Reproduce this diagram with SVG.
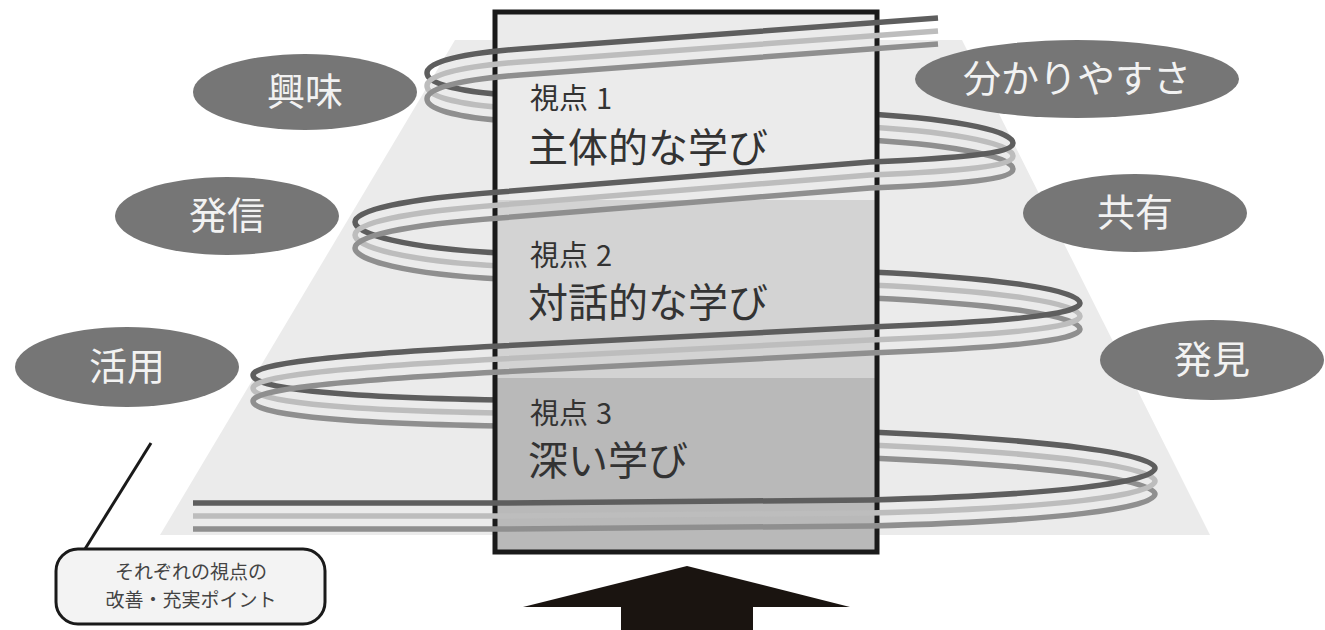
<svg xmlns="http://www.w3.org/2000/svg" xmlns:xlink="http://www.w3.org/1999/xlink" width="1325" height="630" viewBox="0 0 1325 630">
<style>
.bubble{fill:#767676}
.btxt{font-family:"Noto Sans CJK JP","Noto Sans",sans-serif;font-size:38px;fill:#f2f2f2;text-anchor:middle}
.vt{font-family:"Noto Sans CJK JP","Noto Sans",sans-serif;fill:#333333}
.vs{font-size:29px}
.vl{font-size:40px}
.ring{fill:none;stroke-width:5.5;stroke-linecap:butt}
.dk{stroke:#5e5e5e}
.lt{stroke:#bdbdbd}
.md{stroke:#8f8f8f}
.ctxt{font-family:"Noto Sans CJK JP","Noto Sans",sans-serif;font-size:19px;fill:#444444;text-anchor:middle}
</style>
<defs>
<path id="f1" d="M938,18 L520,49 C455,54 427,63 427,73"/>
<path id="f2" d="M1013,143 C1013,153 965,158 870,162 L500,192 C405,199 355,210 355,222"/>
<path id="f3" d="M1080,303 C1080,315 1000,322 870,327 L500,346 C330,355 253,364 253,375"/>
<path id="f4" d="M1155,468 C1155,482 1060,495 870,500 L500,503 L193,503"/>
<path id="b1" d="M427,73 C427,83 455,92 520,96 L870,114 C965,120 1013,132 1013,143"/>
<path id="b2" d="M355,222 C355,234 405,248 500,253 L870,272 C1000,278 1080,290 1080,303"/>
<path id="b3" d="M253,375 C253,388 330,397 500,400 L870,432 C1060,440 1155,455 1155,468"/>
</defs>
<rect x="0" y="0" width="1325" height="630" fill="#ffffff"/>
<polygon points="455,40 962,40 1210,535 160,535" fill="#ebebeb"/>

<g id="spiral-back">
<g class="ring md" transform="translate(0,26)"><use xlink:href="#b1"/><use xlink:href="#b2"/><use xlink:href="#b3"/></g>
<g class="ring lt" transform="translate(0,13)"><use xlink:href="#b1"/><use xlink:href="#b2"/><use xlink:href="#b3"/></g>
<g class="ring dk"><use xlink:href="#b1"/><use xlink:href="#b2"/><use xlink:href="#b3"/></g>
</g>

<g id="viewpoints">
<rect x="495" y="12" width="382" height="188" fill="#ebebeb"/>
<rect x="495" y="200" width="382" height="178" fill="#d3d3d3"/>
<rect x="495" y="378" width="382" height="174" fill="#b9b9b9"/>
<rect x="495" y="12" width="382" height="540" fill="none" stroke="#1a1a1a" stroke-width="5"/>
<text class="vt vs" x="530" y="109">視点<tspan dx="8">1</tspan></text>
<text class="vt vl" x="528" y="162">主体的な学び</text>
<text class="vt vs" x="530" y="266">視点<tspan dx="8">2</tspan></text>
<text class="vt vl" x="528" y="317">対話的な学び</text>
<text class="vt vs" x="530" y="424">視点<tspan dx="8">3</tspan></text>
<text class="vt vl" x="528" y="475">深い学び</text>
</g>

<g id="spiral-front">
<g class="ring md" transform="translate(0,26)"><use xlink:href="#f1"/><use xlink:href="#f2"/><use xlink:href="#f3"/><use xlink:href="#f4"/></g>
<g class="ring lt" transform="translate(0,13)"><use xlink:href="#f1"/><use xlink:href="#f2"/><use xlink:href="#f3"/><use xlink:href="#f4"/></g>
<g class="ring dk"><use xlink:href="#f1"/><use xlink:href="#f2"/><use xlink:href="#f3"/><use xlink:href="#f4"/></g>
</g>

<g id="node-kyomi"><ellipse class="bubble" cx="305" cy="92" rx="112" ry="38"/><text class="btxt" x="305" y="105">興味</text></g>
<g id="node-wakariyasusa"><ellipse class="bubble" cx="1077" cy="79" rx="162" ry="39"/><text class="btxt" x="1077" y="92">分かりやすさ</text></g>
<g id="node-hasshin"><ellipse class="bubble" cx="227" cy="216" rx="112" ry="39"/><text class="btxt" x="227" y="229">発信</text></g>
<g id="node-kyoyu"><ellipse class="bubble" cx="1135" cy="213" rx="112" ry="39"/><text class="btxt" x="1135" y="226">共有</text></g>
<g id="node-katsuyo"><ellipse class="bubble" cx="127" cy="367" rx="112" ry="40"/><text class="btxt" x="127" y="380">活用</text></g>
<g id="node-hakken"><ellipse class="bubble" cx="1212" cy="360" rx="112" ry="40"/><text class="btxt" x="1212" y="373">発見</text></g>

<g id="connectors">
<line x1="151" y1="443" x2="85" y2="549" stroke="#1a1a1a" stroke-width="3"/>
</g>

<g id="callout">
<rect x="56" y="549" width="269" height="75" rx="22" fill="#f3f3f3" stroke="#1a1a1a" stroke-width="3"/>
<text class="ctxt" x="191" y="579">それぞれの視点の</text>
<text class="ctxt" x="191" y="607">改善・充実ポイント</text>
</g>

<g id="arrow">
<polygon points="687,566 850,607 753,607 753,630 621,630 621,607 523,607" fill="#1a1410"/>
</g>
</svg>
